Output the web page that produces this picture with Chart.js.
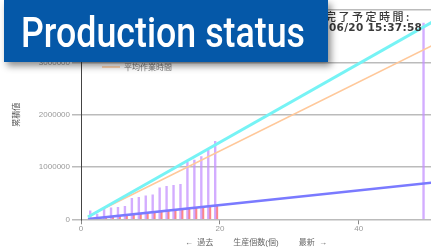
<!DOCTYPE html>
<html>
<head>
<meta charset="utf-8">
<script src="https://cdn.jsdelivr.net/npm/chart.js"></script>
<style>
  html, body { margin: 0; padding: 0; background: #fff; }
  #wrap { position: relative; width: 431px; height: 248px; overflow: hidden; }
  #statusChart { position: absolute; left: 0; top: 0; }
  #banner {
    position: absolute; left: 4px; top: 0; width: 324px; height: 62px;
    background: #0558a8; box-shadow: 3px 4px 7px rgba(0,0,0,0.45);
  }
  #bannerText {
    position: absolute; left: 17px; top: 12px; color: #fff;
    font-family: Roboto, sans-serif; font-weight: 500; font-size: 42px; line-height: 42px;
    white-space: nowrap; transform-origin: 0 0;
  }
</style>
</head>
<body>
<div id="wrap">
  <canvas id="statusChart" width="431" height="248"></canvas>
  <div id="banner"><div id="bannerText">Production status</div></div>
</div>
<script>
// 生産個数ごとの累積時間 (紫) と作業時間 (赤)
var cumX = [1, 2, 3, 4, 5, 6, 7, 8, 9, 10, 11, 12, 13, 14, 15, 16, 17, 18, 19, 49];
var cumY = [160000, 100000, 190000, 220000, 230000, 250000, 400000, 420000, 450000, 470000,
            600000, 630000, 650000, 670000, 1090000, 1130000, 1200000, 1320000, 1490000, 3750000];
var workX = [1, 2, 3, 4, 5, 6, 7, 8, 9, 10, 11, 12, 13, 14, 15, 16, 17, 18, 19];
var workY = [15000, 30000, 45000, 55000, 70000, 85000, 100000, 110000, 125000, 140000,
             150000, 165000, 180000, 195000, 205000, 220000, 235000, 250000, 260000];

// 予測ライン
var predX = [1, 51];
var predY = [43000, 3800000];
var avgX = [1, 51];
var avgY = [54000, 3350000];
var minX = [1, 51];
var minY = [4000, 706000];

var yTicks = [0, 1000000, 2000000, 3000000, 4000000];
var xTitle = '←  過去         生産個数(個)         最新  →';
var yTitle = '累積値';
var legendLabel = '平均作業時間';
var finishLabel = '完了予定時間:';
var finishTime = '06/20 15:37:58';

var fontBase = '"Liberation Sans", "Noto Sans CJK JP", sans-serif';

function toPoints(xs, ys) {
  var pts = [];
  for (let i = 0; i < xs.length; i++) {
    pts.push({ x: xs[i], y: ys[i] });
  }
  return pts;
}

var overlayText = {
  id: 'overlayText',
  afterDraw: function (chart) {
    var ctx = chart.ctx;
    var area = chart.chartArea;
    ctx.save();
    // legend (only the visible entry)
    ctx.strokeStyle = '#ffc89a';
    ctx.lineWidth = 1.5;
    ctx.beginPath();
    ctx.moveTo(area.left + 21, area.top + 57);
    ctx.lineTo(area.left + 39, area.top + 57);
    ctx.stroke();
    ctx.fillStyle = '#777';
    ctx.font = '8px "Noto Sans CJK JP"';
    ctx.textBaseline = 'middle';
    ctx.fillText(legendLabel, area.left + 43, area.top + 57);
    // 完了予定時間
    ctx.fillStyle = '#3a3a3a';
    ctx.font = '500 11px "Noto Sans CJK JP"';
    ctx.letterSpacing = '2.5px';
    ctx.fillText(finishLabel, 325, 17);
    ctx.font = 'bold 10.5px "DejaVu Sans"';
    ctx.letterSpacing = '0.3px';
    ctx.fillText(finishTime, 329, 28);
    ctx.restore();
  }
};

window.onload = function () {
  document.fonts.ready.then(function () {
    fitBanner();
    drawChart();
  });
};

function fitBanner() {
  var t = document.getElementById('bannerText');
  var w = t.getBoundingClientRect().width;
  t.style.transform = 'scaleX(' + (284 / w) + ')';
}

function drawChart() {
  var ctx = document.getElementById('statusChart');

  var config = {
    type: 'bar',
    data: {
      datasets: [
        {
          type: 'line', label: '予測', data: toPoints(predX, predY), xAxisID: 'x',
          borderColor: '#76f3f5', borderWidth: 3, pointRadius: 0, order: 1
        },
        {
          type: 'line', label: legendLabel, data: toPoints(avgX, avgY), xAxisID: 'x',
          borderColor: '#ffc89a', borderWidth: 1.5, pointRadius: 0, order: 1
        },
        {
          type: 'line', label: '最短', data: toPoints(minX, minY), xAxisID: 'x',
          borderColor: '#7a7aff', borderWidth: 2.5, pointRadius: 0, order: 1
        },
        {
          label: '累積時間', data: toPoints(cumX, cumY), xAxisID: 'xb',
          backgroundColor: 'rgba(196,146,255,0.75)', barPercentage: 1,
          categoryPercentage: 1, order: 2
        },
        {
          label: '作業時間', data: toPoints(workX, workY), xAxisID: 'xb',
          backgroundColor: 'rgba(255,95,95,0.75)', barPercentage: 1,
          categoryPercentage: 1, order: 2
        }
      ]
    },
    options: {
      responsive: false,
      animation: false,
      devicePixelRatio: 1,
      layout: { padding: { top: 10, right: 0, left: 0, bottom: 0 } },
      plugins: {
        legend: { display: false },
        tooltip: { enabled: false }
      },
      scales: {
        x: {
          type: 'linear', min: 0, max: 50.4, offset: false,
          ticks: {
            stepSize: 20, includeBounds: false, maxRotation: 0, padding: 0,
            color: '#999', font: { size: 8, family: fontBase },
            callback: function (v) { return v; }
          },
          grid: { drawOnChartArea: false, tickLength: 5, color: '#888', lineWidth: 1, offset: false },
          border: { display: false },
          title: {
            display: true, text: xTitle, color: '#666', padding: 0,
            font: { size: 8, family: fontBase }
          },
          afterFit: function (s) { s.height = 28.7; }
        },
        xb: {
          type: 'linear', display: false, min: -0.45, max: 49.95, offset: false,
          ticks: { stepSize: 20, includeBounds: false },
          grid: { offset: false }
        },
        y: {
          min: 0, max: 4000000,
          afterBuildTicks: function (s) {
            s.ticks = yTicks.map(function (v) { return { value: v }; });
          },
          ticks: {
            padding: 2, color: '#999', font: { size: 8, family: fontBase },
            callback: function (v) { return String(v); }
          },
          grid: { color: '#bbb', lineWidth: 1.5, tickLength: 9 },
          border: { display: true, color: '#444', width: 1 },
          title: {
            display: true, text: yTitle, color: '#555', padding: { top: 12, bottom: 0 },
            font: { size: 8, family: fontBase }
          },
          afterFit: function (s) { s.width = 81; }
        }
      }
    },
    plugins: [overlayText]
  };

  new Chart(ctx, config);
}
</script>
</body>
</html>
